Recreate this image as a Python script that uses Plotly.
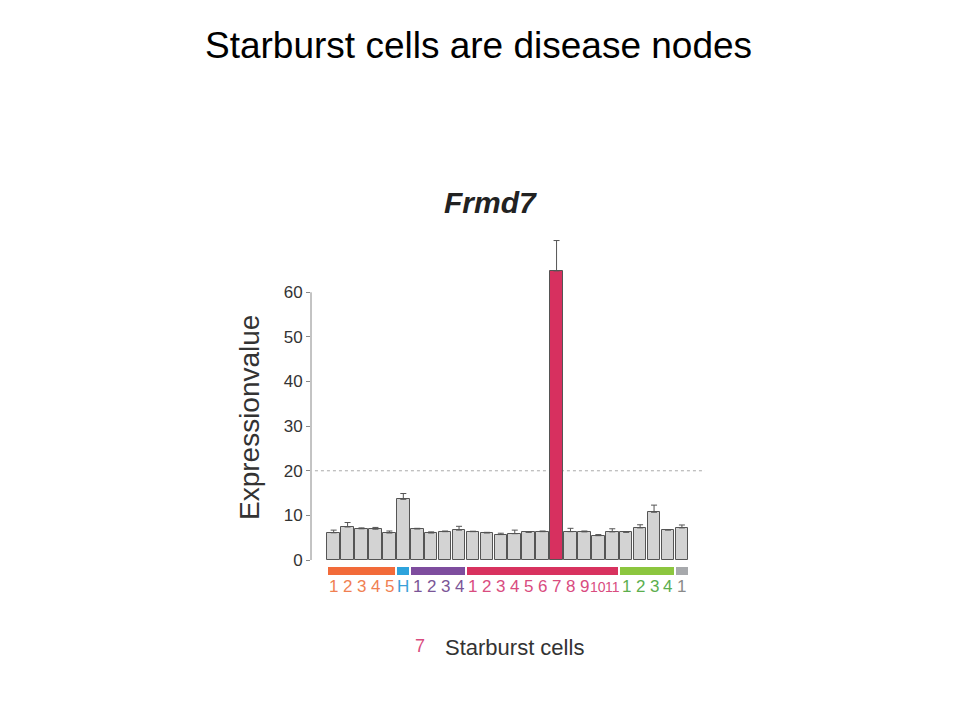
import plotly.graph_objects as go

# ---- data ----
cell_labels = ["1", "2", "3", "4", "5", "H", "1", "2", "3", "4",
               "1", "2", "3", "4", "5", "6", "7", "8", "9", "10", "11",
               "1", "2", "3", "4", "1"]
expression = [6.1, 7.4, 7.0, 6.9, 6.05, 13.6, 6.95, 6.05, 6.35, 6.7,
              6.35, 6.05, 5.7, 5.9, 6.2, 6.35, 64.8, 6.35, 6.3, 5.45, 6.3,
              6.2, 7.2, 10.7, 6.7, 7.2]
error_up = [0.6, 1.0, 0.2, 0.4, 0.45, 1.3, 0.15, 0.25, 0.15, 0.85,
            0.1, 0.15, 0.3, 0.8, 0.1, 0.15, 6.8, 0.75, 0.2, 0.25, 0.7,
            0.1, 0.7, 1.6, 0.1, 0.65]
group_sizes = [5, 1, 4, 11, 4, 1]
group_bar_colors = ["#F26B3A", "#2EA3DC", "#7E4D9E", "#D8325F", "#8CC63F", "#A7A9AC"]
group_label_colors = ["#F07F52", "#3A9FD8", "#7A5597", "#D94C7F", "#5BAE4E", "#8A8A8A"]
highlight_index = 16
y_tick_vals = [0, 10, 20, 30, 40, 50, 60]
threshold = 20

# ---- layout constants (target pixel positions) ----
W, H = 960, 720
OFF = 8  # page body margin offset
L, R, T, B = 311, 705, 230, 600
y0_px, y60_px = 560.0, 292.3
ppu = (y0_px - y60_px) / 60.0
y_top = (y0_px - T) / ppu
y_bot = -(B - y0_px) / ppu
bar_left_px, bar_step_px = 326.7, 13.93
x_lo = -0.5 - (bar_left_px - L) / bar_step_px
x_hi = x_lo + (R - L) / bar_step_px

def px_x(px):
    return (px - L) / (R - L)

def px_y(py):
    return (B - py) / (B - T)

n = len(expression)
xs = list(range(n))
bar_colors = ["#D3D3D3"] * n
bar_colors[highlight_index] = "#D7305F"

label_colors = []
group_centers, group_widths = [], []
start = 0
for size, lc in zip(group_sizes, group_label_colors):
    label_colors += [lc] * size
    group_centers.append(start + (size - 1) / 2)
    group_widths.append(size - 0.14)
    start += size

fig = go.Figure()
fig.add_trace(go.Bar(
    x=xs, y=expression, width=0.9,
    marker=dict(color=bar_colors, line=dict(color="#555555", width=1)),
    error_y=dict(type="data", symmetric=False, array=error_up,
                 arrayminus=[0] * n, color="#555555", thickness=1, width=3),
    showlegend=False, hoverinfo="skip"))

fig.add_trace(go.Bar(
    x=group_centers, y=[-1.9] * len(group_sizes), base=-1.5,
    width=group_widths, marker=dict(color=group_bar_colors, line=dict(width=0)),
    showlegend=False, hoverinfo="skip"))

annotations = []
for i, (lab, col) in enumerate(zip(cell_labels, label_colors)):
    annotations.append(dict(x=i, y=-6.0, xref="x", yref="y", text=lab,
                            showarrow=False,
                            font=dict(size=17 if len(lab) == 1 else 14, color=col),
                            xanchor="center", yanchor="middle"))

annotations += [
    dict(x=px_x(478), y=px_y(45), xref="paper", yref="paper",
         text="Starburst cells are disease nodes", showarrow=False,
         font=dict(size=37, color="#000000"), xanchor="center", yanchor="middle"),
    dict(x=px_x(490), y=px_y(202), xref="paper", yref="paper",
         text="<b><i>Frmd7</i></b>", showarrow=False,
         font=dict(size=30, color="#222222"), xanchor="center", yanchor="middle"),
    dict(x=px_x(249), y=px_y(418), xref="paper", yref="paper",
         text="Expressionvalue", textangle=-90, showarrow=False,
         font=dict(size=28, color="#333333"), xanchor="center", yanchor="middle"),
    dict(x=px_x(420), y=px_y(646), xref="paper", yref="paper",
         text="7", showarrow=False,
         font=dict(size=18, color="#D94C7F"), xanchor="center", yanchor="middle"),
    dict(x=px_x(443), y=px_y(647), xref="paper", yref="paper",
         text="Starburst cells", showarrow=False,
         font=dict(size=22, color="#333333"), xanchor="left", yanchor="middle"),
]

shapes = [
    dict(type="line", xref="paper", yref="y", x0=0.01, x1=1, y0=threshold, y1=threshold,
         line=dict(color="#AAAAAA", width=1, dash="3px,3px"), layer="below"),
    dict(type="line", xref="paper", yref="y", x0=0, x1=0,
         y0=y_tick_vals[0], y1=y_tick_vals[-1],
         line=dict(color="#888888", width=1)),
]

fig.update_layout(
    width=W, height=H,
    margin=dict(l=L - OFF, r=W - R + OFF, t=T - OFF, b=H - B + OFF, pad=0),
    paper_bgcolor="white", plot_bgcolor="white",
    font=dict(family="Liberation Sans, Arial, sans-serif"),
    barmode="overlay", bargap=0,
    xaxis=dict(range=[x_lo, x_hi], showgrid=False, zeroline=False,
               showticklabels=False, ticks="", showline=False),
    yaxis=dict(range=[y_bot, y_top], showgrid=False, zeroline=False, showline=False,
               tickvals=y_tick_vals, ticks="outside", ticklen=4, tickcolor="#888888",
               tickfont=dict(size=17, color="#333333")),
    annotations=annotations, shapes=shapes,
)

fig.write_html("out.html")
